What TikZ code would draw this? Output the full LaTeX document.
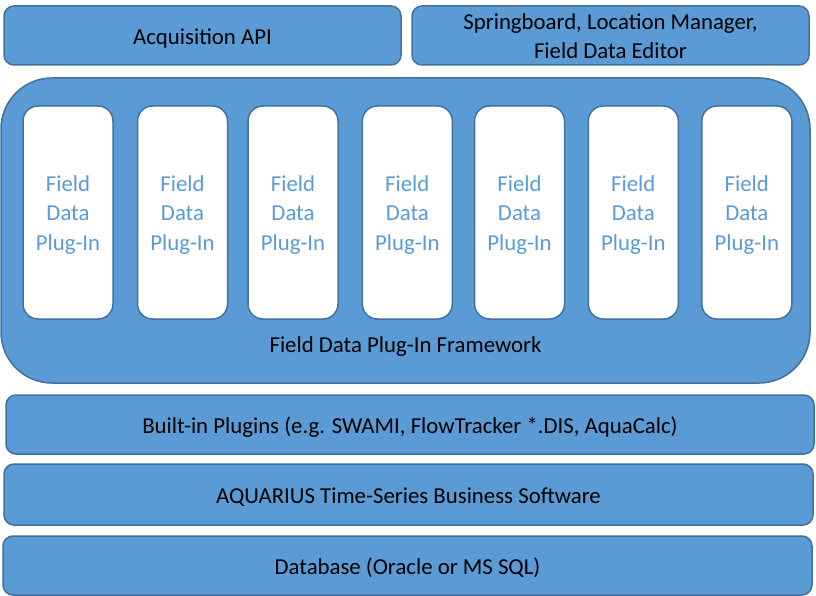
\documentclass[tikz,border=0pt]{standalone}
\usepackage{fontspec}
\setmainfont{Carlito}
\definecolor{fillc}{HTML}{5B9BD5}
\definecolor{bordc}{HTML}{41719C}
\begin{document}
\begin{tikzpicture}[x=1pt,y=-1pt,
  txt/.style={font={\fontsize{22.8}{29.5}\selectfont}, inner sep=0pt, align=center},
  blk/.style={draw=bordc, fill=fillc, line width=1.5pt, rounded corners=10pt, inner sep=0pt},
  plug/.style={draw=bordc, fill=white, line width=1.5pt, rounded corners=15pt, inner sep=0pt, minimum width=90pt, minimum height=213pt},
  lbl/.style={txt, text=black},
  plbl/.style={txt, text=fillc}]
\useasboundingbox (0,0) rectangle (816,596);
\node[blk, minimum width=397pt, minimum height=59pt] (acq) at (202.5,35.5) {};
\node[lbl] (acql) at ([yshift=-2.5pt]acq.center) {Acquisition API};
\node[blk, minimum width=397pt, minimum height=59pt] (spring) at (610.5,35.5) {};
\node[lbl] (springl) at ([yshift=-0.5pt]spring.center) {Springboard, Location Manager,\\Field Data Editor};
\node[blk, rounded corners=51pt, minimum width=809pt, minimum height=305pt] (fw) at (405.5,230.5) {};
\node[lbl] (fwl) at (405.5,346.5) {Field Data Plug-In Framework};
\foreach \i/\x in {1/68,2/182.5,3/293,4/407.3,5/519.5,6/633.3,7/746.8}{
  \node[plug] (p\i) at (\x,212.5) {};
  \node[plbl] (p\i l) at ([yshift=-2.5pt]p\i.center) {Field\\Data\\Plug-In};
}
\node[blk, minimum width=808pt, minimum height=59pt] (built) at (410,424.5) {};
\node[lbl] (builtl) at ([yshift=-2.5pt]built.center) {Built-in Plugins (e.g. SWAMI, FlowTracker *.DIS, AquaCalc)};
\node[blk, minimum width=809pt, minimum height=61pt] (aq) at (408.5,494.5) {};
\node[lbl] (aql) at ([yshift=-2.5pt]aq.center) {AQUARIUS Time-Series Business Software};
\node[blk, minimum width=809pt, minimum height=59pt] (db) at (407.5,565.5) {};
\node[lbl] (dbl) at ([yshift=-2.5pt]db.center) {Database (Oracle or MS SQL)};
\end{tikzpicture}
\end{document}
